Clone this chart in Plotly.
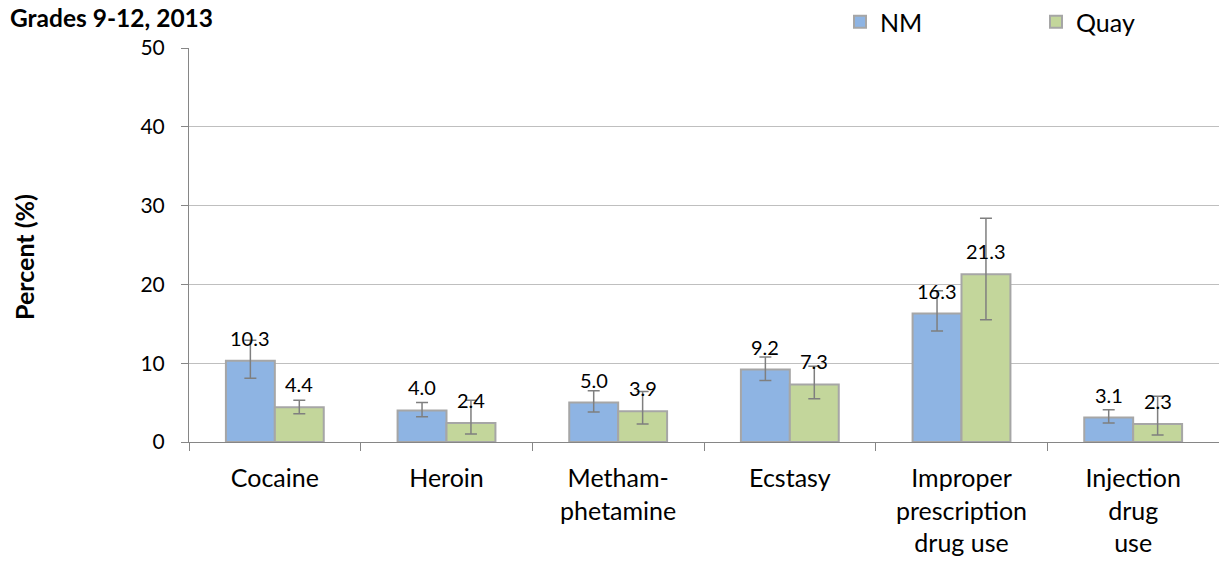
import plotly.graph_objects as go

# Drug use, grades 9-12, 2013: NM statewide vs Quay County
categories = ["Cocaine", "Heroin", "Metham-<br>phetamine", "Ecstasy",
              "Improper<br>prescription<br>drug use", "Injection<br>drug<br>use"]
nm_values = [10.3, 4.0, 5.0, 9.2, 16.3, 3.1]
nm_upper = [12.9, 5.0, 6.5, 10.8, 19.2, 4.1]
nm_lower = [8.1, 3.2, 3.8, 7.8, 14.1, 2.4]
quay_values = [4.4, 2.4, 3.9, 7.3, 21.3, 2.3]
quay_upper = [5.3, 5.3, 6.4, 9.6, 28.4, 5.8]
quay_lower = [3.6, 1.0, 2.3, 5.5, 15.5, 0.9]
y_ticks = [0, 10, 20, 30, 40, 50]

FONT = "Lato"
NM_COLOR = "#8EB4E3"
QUAY_COLOR = "#C3D69B"
EDGE = "#A6A6A6"
ERR = "#7F7F7F"

W, H = 1219, 563
L, R, T, B = 189, 0, 48, 121
PW, PH = W - L - R, H - T - B


def err_dict(vals, up, lo):
    return dict(type="data", symmetric=False,
                array=[u - v for u, v in zip(up, vals)],
                arrayminus=[v - l for v, l in zip(vals, lo)],
                color=ERR, thickness=1.5, width=6)


fig = go.Figure()
fig.add_trace(go.Bar(name="NM", x=categories, y=nm_values,
                     marker=dict(color=NM_COLOR, line=dict(color=EDGE, width=2)),
                     error_y=err_dict(nm_values, nm_upper, nm_lower)))
fig.add_trace(go.Bar(name="Quay", x=categories, y=quay_values,
                     marker=dict(color=QUAY_COLOR, line=dict(color=EDGE, width=2)),
                     error_y=err_dict(quay_values, quay_upper, quay_lower)))

# value labels above each bar
for series, shift in ((nm_values, -24.5), (quay_values, 24.5)):
    for cat, v in zip(categories, series):
        fig.add_annotation(x=cat, y=v, xref="x", yref="y", text=f"{v:.1f}",
                           showarrow=False, xshift=shift, yshift=23,
                           yanchor="middle",
                           font=dict(family=FONT, size=20, color="#000000"))

# chart heading in the top-left corner
fig.add_annotation(x=(8 - L) / PW, y=1 + (T - 17) / PH, xref="paper", yref="paper",
                   text="<b>Grades 9-12, 2013</b>",
                   showarrow=False, xanchor="left", yanchor="middle",
                   font=dict(family=FONT, size=24.5, color="#000000"))

# y-axis title, placed by hand
fig.add_annotation(x=(24 - L) / PW, y=1 - (257 - T) / PH, xref="paper", yref="paper",
                   text="<b>Percent (%)</b>", textangle=-90,
                   showarrow=False, xanchor="center", yanchor="middle",
                   font=dict(family=FONT, size=25, color="#000000"))

fig.update_layout(
    width=W, height=H,
    margin=dict(l=L, r=R, t=T, b=B, pad=0, autoexpand=False),
    plot_bgcolor="white", paper_bgcolor="white",
    barmode="group", bargap=0.43, bargroupgap=0,
    font=dict(family=FONT, size=25, color="#000000"),
    legend=dict(orientation="h", x=(840 - L) / PW, y=1 + (T - 22) / PH,
                xanchor="left", yanchor="middle",
                entrywidth=151, entrywidthmode="pixels",
                font=dict(family=FONT, size=25), bgcolor="rgba(0,0,0,0)"),
    xaxis=dict(showline=True, linecolor="#868686", linewidth=1,
               ticks="outside", tickson="boundaries", ticklen=8, tickcolor="#868686",
               tickfont=dict(family=FONT, size=25), ticklabelstandoff=14,
               automargin=False),
    yaxis=dict(range=[0, 50], tickvals=y_ticks, showgrid=True, gridcolor="#BFBFBF",
               gridwidth=1, showline=True, linecolor="#868686", linewidth=1,
               ticks="outside", ticklen=7, tickcolor="#868686", zeroline=False,
               tickfont=dict(family=FONT, size=21), ticklabelstandoff=12,
               automargin=False),
)

fig.write_html("out.html")
